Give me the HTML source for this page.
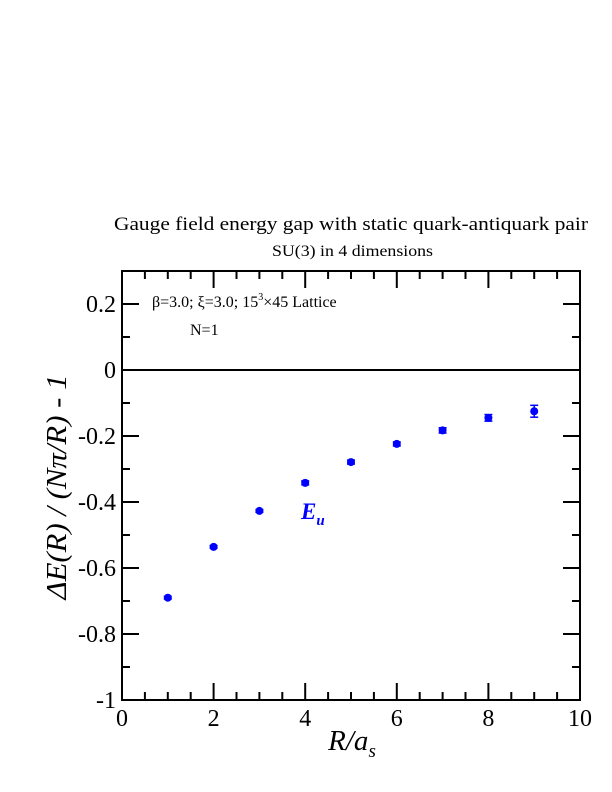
<!DOCTYPE html>
<html><head><meta charset="utf-8"><style>
body{margin:0;background:#fff}
svg{display:block;font-family:"Liberation Serif",serif}
</style></head><body>
<svg width="612" height="792" viewBox="0 0 612 792">
<text x="114" y="230" font-size="19" textLength="474" lengthAdjust="spacingAndGlyphs">Gauge field energy gap with static quark-antiquark pair</text>
<text x="272" y="256" font-size="16" textLength="161" lengthAdjust="spacingAndGlyphs">SU(3) in 4 dimensions</text>
<g id="axes"></g>
<g id="marks"></g>
<text x="152" y="307" font-size="16">β=3.0;  ξ=3.0;  15<tspan dy="-7" font-size="10">3</tspan><tspan dy="7">×45 Lattice</tspan></text>
<text x="190" y="335" font-size="16">N=1</text>
<text x="301" y="519" font-size="23" font-style="italic" font-weight="bold" fill="#0000ff">E<tspan dy="6" font-size="15">u</tspan></text>
<text x="352" y="750" text-anchor="middle" font-size="29" font-style="italic">R/a<tspan dy="7" font-size="19">s</tspan></text>
<text transform="translate(66,487) rotate(-90)" text-anchor="middle" font-size="28" font-style="italic" textLength="225" lengthAdjust="spacingAndGlyphs">ΔE(R) / (Nπ/R) - 1</text>
</svg>
<script>
const xVals=[1,2,3,4,5,6,7,8,9];
const yVals=[-0.69,-0.536,-0.427,-0.342,-0.279,-0.224,-0.183,-0.145,-0.125];
const yErr=[0.004,0.004,0.004,0.006,0.006,0.006,0.008,0.01,0.018];
const xTicks=[0,2,4,6,8,10];
const yTicks=[0.2,0,-0.2,-0.4,-0.6,-0.8,-1];
const yTickLabels=["0.2","0","-0.2","-0.4","-0.6","-0.8","-1"];
const L=122,R=580,T=271,B=700,x0=0,x1=10,y0=-1,y1=0.3;
const sx=v=>L+(v-x0)/(x1-x0)*(R-L);
const sy=v=>B-(v-y0)/(y1-y0)*(B-T);
const NS="http://www.w3.org/2000/svg";
const ax=document.getElementById('axes'),mk=document.getElementById('marks');
function mkEl(t,a,p){const e=document.createElementNS(NS,t);for(const k in a)e.setAttribute(k,a[k]);p.appendChild(e);return e;}
let fr=mkEl('rect',{x:L,y:T,width:R-L,height:B-T,fill:'none',stroke:'#000','stroke-width':2},ax);


let zl=mkEl('line',{x1:L,x2:R,y1:sy(0),y2:sy(0),stroke:'#000','stroke-width':2},ax);


for(let v=0;v<=10.001;v+=0.5){
  const major=Math.abs(v/2-Math.round(v/2))<1e-6, len=major?17:8, x=sx(v);
  mkEl('line',{x1:x,x2:x,y1:B,y2:B-len,stroke:'#000','stroke-width':2},ax);
  mkEl('line',{x1:x,x2:x,y1:T,y2:T+len,stroke:'#000','stroke-width':2},ax);
}
for(let i=0;i<=13;i++){
  const v=-1+i*0.1, major=i%2===0, len=major?17:8, y=sy(v);
  mkEl('line',{x1:L,x2:L+len,y1:y,y2:y,stroke:'#000','stroke-width':2},ax);
  mkEl('line',{x1:R,x2:R-len,y1:y,y2:y,stroke:'#000','stroke-width':2},ax);
}
xTicks.forEach(v=>{
  const t=mkEl('text',{x:sx(v),y:B+26,'text-anchor':'middle','font-size':24},ax);
  t.textContent=v;
  
  
});
yTicks.forEach((v,i)=>{
  const t=mkEl('text',{x:L-6,y:sy(v)+8,'text-anchor':'end','font-size':24},ax);
  t.textContent=yTickLabels[i];
  
  
});
xVals.forEach((xv,i)=>{
  const x=sx(xv),y=sy(yVals[i]),e1=sy(yVals[i]+yErr[i]),e2=sy(yVals[i]-yErr[i]);
  const g=mkEl('g',{},mk);
  
  
  mkEl('line',{x1:x,x2:x,y1:e1,y2:e2,stroke:'#0000ff','stroke-width':1.5},g);
  mkEl('line',{x1:x-4,x2:x+4,y1:e1,y2:e1,stroke:'#0000ff','stroke-width':1.5},g);
  mkEl('line',{x1:x-4,x2:x+4,y1:e2,y2:e2,stroke:'#0000ff','stroke-width':1.5},g);
  mkEl('circle',{cx:x,cy:y,r:4,fill:'#0000ff'},g);
});
</script>
</body></html>
